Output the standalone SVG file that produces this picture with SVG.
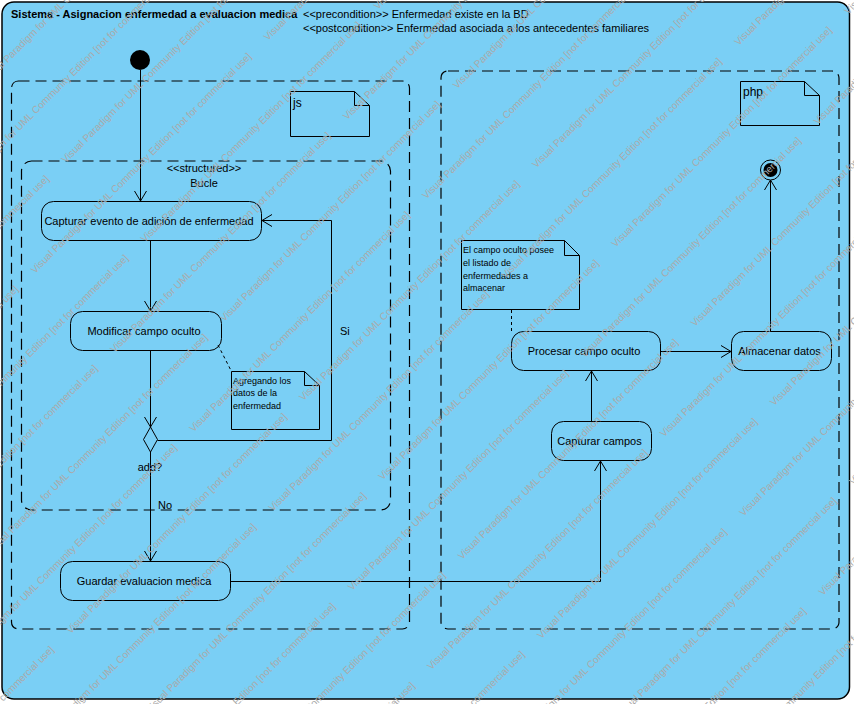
<svg xmlns="http://www.w3.org/2000/svg" xmlns:xlink="http://www.w3.org/1999/xlink" width="854" height="704" viewBox="0 0 854 704">
  <style>
    .frame { fill: #7acff5; stroke: #000; stroke-width: 1.5; }
    .part { fill: none; stroke: #000; stroke-width: 1.2; stroke-dasharray: 11 6; }
    .action { fill: #7acff5; stroke: #000; stroke-width: 1; }
    .note { fill: #7acff5; stroke: #000; stroke-width: 1; }
    .fold { fill: none; stroke: #000; stroke-width: 1; }
    .edge { fill: none; stroke: #000; stroke-width: 1; }
    .anchor { fill: none; stroke: #000; stroke-width: 1; stroke-dasharray: 3 3; }
    .lbl { font-family: "Liberation Sans", Arial, sans-serif; font-size: 11px; fill: #000; }
    .mid { text-anchor: middle; }
    .title { font-weight: bold; }
    .ntxt { font-family: "Liberation Sans", Arial, sans-serif; font-size: 9px; fill: #000; }
    .wm { font-family: "Liberation Sans", Arial, sans-serif; font-size: 10px; fill: #aaaaaa; }
  </style>
  <defs>
    <marker id="arrow" markerUnits="userSpaceOnUse" markerWidth="14" markerHeight="14" viewBox="0 0 14 14" refX="12" refY="7" orient="auto">
      <path d="M2,1 L12,7 L2,13" fill="none" stroke="#000" stroke-width="1"/>
    </marker>
    <text id="wmText" class="wm">Visual Paradigm for UML Community Edition [not for commercial use]</text>
  </defs>

  <!-- diagram frame -->
  <rect class="frame" x="2" y="2" width="847.5" height="697" rx="12"/>
  <text class="lbl title" x="11" y="18">Sistema - Asignacion enfermedad a evaluacion medica</text>
  <text class="lbl" x="303" y="18">&lt;&lt;precondition&gt;&gt; Enfermedad existe en la BD</text>
  <text class="lbl" x="303" y="32">&lt;&lt;postcondition&gt;&gt; Enfermedad asociada a los antecedentes familiares</text>

  <!-- partitions -->
  <g id="partition-js">
    <rect class="part" x="11.5" y="81" width="398" height="548" rx="7"/>
  </g>
  <g id="partition-php">
    <rect class="part" x="441" y="71" width="398" height="558" rx="7"/>
  </g>

  <!-- structured activity node -->
  <g id="bucle">
    <rect class="part" x="21.5" y="161" width="369" height="349" rx="10"/>
    <text class="lbl mid" x="204" y="172">&lt;&lt;structured&gt;&gt;</text>
    <text class="lbl mid" x="204" y="187">Bucle</text>
  </g>

  <!-- notes -->
  <g id="note-js">
    <path class="note" d="M290.5,91.5 H354.5 L369.5,105.5 V136.5 H290.5 Z"/>
    <path class="fold" d="M354.5,91.5 V105.5 H369.5"/>
    <text class="lbl" x="293" y="107" style="font-size:12px">js</text>
  </g>
  <g id="note-php">
    <path class="note" d="M740.5,81.5 H804.5 L819.5,95.5 V125.5 H740.5 Z"/>
    <path class="fold" d="M804.5,81.5 V95.5 H819.5"/>
    <text class="lbl" x="743" y="96" style="font-size:12px">php</text>
  </g>
  <g id="note-agregando">
    <path class="note" d="M231.5,371.5 H304.5 L319.5,385.5 V429.5 H231.5 Z"/>
    <path class="fold" d="M304.5,371.5 V385.5 H319.5"/>
    <text class="ntxt" x="233" y="383.5">Agregando los</text>
    <text class="ntxt" x="233" y="396">datos de la</text>
    <text class="ntxt" x="233" y="408.5">enfermedad</text>
  </g>
  <g id="note-campo">
    <path class="note" d="M461.5,240.5 H564.5 L579.5,255.5 V309.5 H461.5 Z"/>
    <path class="fold" d="M564.5,240.5 V255.5 H579.5"/>
    <text class="ntxt" x="463" y="253">El campo oculto posee</text>
    <text class="ntxt" x="463" y="266">el listado de</text>
    <text class="ntxt" x="463" y="278.5">enfermedades a</text>
    <text class="ntxt" x="463" y="291">almacenar</text>
  </g>

  <!-- control nodes -->
  <g id="initial">
    <circle cx="140" cy="60" r="10" fill="#000"/>
  </g>
  <g id="final">
    <circle cx="770.5" cy="170" r="10" fill="#7acff5" stroke="#000" stroke-width="1"/>
    <circle cx="770.5" cy="170" r="7" fill="#000"/>
  </g>
  <g id="decision">
    <path class="action" d="M150.5,427 L157.5,439.5 L150.5,452 L143.5,439.5 Z"/>
    <text class="lbl mid" x="150" y="471">add?</text>
  </g>

  <!-- actions -->
  <g id="capturar-evento">
    <rect class="action" x="41.5" y="201.5" width="220" height="39" rx="12"/>
    <text class="lbl mid" x="149" y="225">Capturar evento de adición de enfermedad</text>
  </g>
  <g id="modificar">
    <rect class="action" x="70.5" y="311.5" width="151" height="39" rx="12"/>
    <text class="lbl mid" x="144" y="335">Modificar campo oculto</text>
  </g>
  <g id="guardar">
    <rect class="action" x="60.5" y="561.5" width="170" height="39" rx="12"/>
    <text class="lbl mid" x="144" y="585">Guardar evaluacion medica</text>
  </g>
  <g id="capturar-campos">
    <rect class="action" x="551.5" y="421.5" width="100" height="39" rx="12"/>
    <text class="lbl mid" x="599.5" y="445">Capturar campos</text>
  </g>
  <g id="procesar">
    <rect class="action" x="511.5" y="331.5" width="149" height="39" rx="12"/>
    <text class="lbl mid" x="584" y="355">Procesar campo oculto</text>
  </g>
  <g id="almacenar">
    <rect class="action" x="731.5" y="331.5" width="100" height="39" rx="12"/>
    <text class="lbl mid" x="779.5" y="355">Almacenar datos</text>
  </g>

  <!-- connectors -->
  <g id="connectors">
    <path class="edge" d="M140.5,70 V201" marker-end="url(#arrow)"/>
    <path class="edge" d="M150.5,241 V311" marker-end="url(#arrow)"/>
    <path class="edge" d="M150.5,351 V427" marker-end="url(#arrow)"/>
    <path class="edge" d="M157.5,440.5 H331.5 V220.5 H262" marker-end="url(#arrow)"/>
    <path class="edge" d="M150.5,452 V561" marker-end="url(#arrow)"/>
    <path class="edge" d="M231,581.5 H600.5 V461" marker-end="url(#arrow)"/>
    <path class="edge" d="M591.5,421 V371" marker-end="url(#arrow)"/>
    <path class="edge" d="M661,351.5 H731" marker-end="url(#arrow)"/>
    <path class="edge" d="M770.5,331 V180" marker-end="url(#arrow)"/>
    <path class="anchor" d="M218,345 L231.5,371.5"/>
    <path class="anchor" d="M511.5,310 V331"/>
    <text class="lbl" x="340" y="335">Si</text>
    <text class="lbl" x="158" y="509">No</text>
  </g>

  <!-- edition watermark, laid out along -45 degree lines -->
  <g id="watermark" transform="rotate(-45)">
    <use xlink:href="#wmText" x="-69.3" y="49.9"/>
    <use xlink:href="#wmText" x="-398.6" y="162"/>
    <use xlink:href="#wmText" x="-69.3" y="162"/>
    <use xlink:href="#wmText" x="-398.6" y="274.1"/>
    <use xlink:href="#wmText" x="-69.3" y="274.1"/>
    <use xlink:href="#wmText" x="260" y="274.1"/>
    <use xlink:href="#wmText" x="-398.6" y="386.2"/>
    <use xlink:href="#wmText" x="-69.3" y="386.2"/>
    <use xlink:href="#wmText" x="260" y="386.2"/>
    <use xlink:href="#wmText" x="-728" y="498.3"/>
    <use xlink:href="#wmText" x="-398.6" y="498.3"/>
    <use xlink:href="#wmText" x="-69.3" y="498.3"/>
    <use xlink:href="#wmText" x="260" y="498.3"/>
    <use xlink:href="#wmText" x="-398.6" y="610.4"/>
    <use xlink:href="#wmText" x="-69.3" y="610.4"/>
    <use xlink:href="#wmText" x="260" y="610.4"/>
    <use xlink:href="#wmText" x="589.3" y="610.4"/>
    <use xlink:href="#wmText" x="-398.6" y="722.5"/>
    <use xlink:href="#wmText" x="-69.3" y="722.5"/>
    <use xlink:href="#wmText" x="260" y="722.5"/>
    <use xlink:href="#wmText" x="-398.6" y="834.6"/>
    <use xlink:href="#wmText" x="-69.3" y="834.6"/>
    <use xlink:href="#wmText" x="260" y="834.6"/>
    <use xlink:href="#wmText" x="-69.3" y="946.6"/>
    <use xlink:href="#wmText" x="260" y="946.6"/>
    <use xlink:href="#wmText" x="-69.3" y="1058.7"/>

    <use xlink:href="#wmText" x="-169" y="106.3"/>
    <use xlink:href="#wmText" x="-498.3" y="218.4"/>
    <use xlink:href="#wmText" x="-169" y="218.4"/>
    <use xlink:href="#wmText" x="160.3" y="218.4"/>
    <use xlink:href="#wmText" x="-498.3" y="330.5"/>
    <use xlink:href="#wmText" x="-169" y="330.5"/>
    <use xlink:href="#wmText" x="160.3" y="330.5"/>
    <use xlink:href="#wmText" x="-498.3" y="442.6"/>
    <use xlink:href="#wmText" x="-169" y="442.6"/>
    <use xlink:href="#wmText" x="160.3" y="442.6"/>
    <use xlink:href="#wmText" x="-827.6" y="554.7"/>
    <use xlink:href="#wmText" x="-498.3" y="554.7"/>
    <use xlink:href="#wmText" x="-169" y="554.7"/>
    <use xlink:href="#wmText" x="160.3" y="554.7"/>
    <use xlink:href="#wmText" x="489.6" y="554.7"/>
    <use xlink:href="#wmText" x="-498.3" y="666.8"/>
    <use xlink:href="#wmText" x="-169" y="666.8"/>
    <use xlink:href="#wmText" x="160.3" y="666.8"/>
    <use xlink:href="#wmText" x="489.6" y="666.8"/>
    <use xlink:href="#wmText" x="-498.3" y="778.9"/>
    <use xlink:href="#wmText" x="-169" y="778.9"/>
    <use xlink:href="#wmText" x="160.3" y="778.9"/>
    <use xlink:href="#wmText" x="-169" y="891"/>
    <use xlink:href="#wmText" x="160.3" y="891"/>
    <use xlink:href="#wmText" x="-169" y="1003.1"/>
    <use xlink:href="#wmText" x="160.3" y="1003.1"/>
  </g>
</svg>
